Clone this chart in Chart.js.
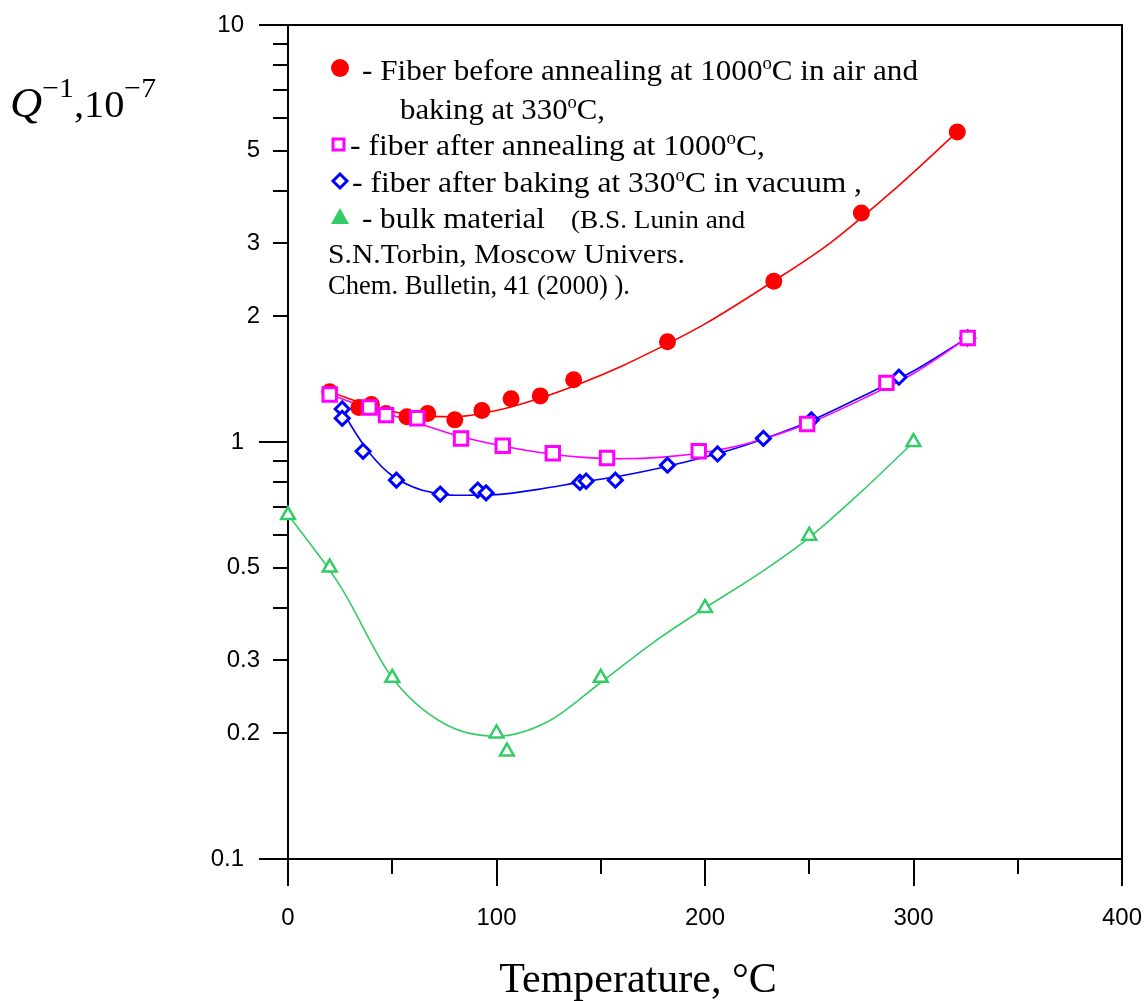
<!DOCTYPE html>
<html>
<head>
<meta charset="utf-8">
<script src="https://cdn.jsdelivr.net/npm/chart.js@4.4.1/dist/chart.umd.min.js"></script>
<style>
  html, body { margin: 0; padding: 0; background: #fff; }
  #wrap { width: 1148px; height: 1001px; position: relative; }
</style>
</head>
<body>
<div id="wrap"><canvas id="chart"></canvas></div>
<script>
// measured points (temperature, Q^-1 in 1e-7)
const redT = [20, 34, 40, 47, 57, 67, 80, 93, 107, 121, 137, 182, 233, 275, 321];
const redQ = [1.32, 1.21, 1.23, 1.17, 1.15, 1.17, 1.13, 1.19, 1.27, 1.29, 1.41, 1.74, 2.43, 3.54, 5.54];

const magT = [20, 39, 47, 62, 83, 103, 127, 153, 197, 249, 287, 326];
const magQ = [1.30, 1.21, 1.16, 1.14, 1.02, 0.98, 0.94, 0.915, 0.95, 1.105, 1.386, 1.776];

const blueT = [26, 26, 36, 52, 73, 91, 95, 140, 143, 157, 182, 206, 228, 251, 293, 326];
const blueQ = [1.20, 1.14, 0.95, 0.81, 0.75, 0.767, 0.755, 0.80, 0.806, 0.81, 0.88, 0.936, 1.02, 1.13, 1.43, 1.776];

const greenT = [0, 20, 50, 100, 105, 150, 200, 250, 300];
const greenQ = [0.668, 0.50, 0.272, 0.20, 0.181, 0.272, 0.40, 0.596, 1.0];

// fitted curves
const redFitT = [20, 40, 60, 80, 100, 120, 140, 160, 180, 200, 230, 260, 290, 321];
const redFitQ = [1.32, 1.22, 1.16, 1.15, 1.19, 1.27, 1.38, 1.52, 1.70, 1.92, 2.38, 3.0, 4.0, 5.54];

const magFitT = [20, 40, 60, 80, 100, 120, 140, 160, 180, 200, 220, 250, 280, 300, 326];
const magFitQ = [1.30, 1.20, 1.12, 1.04, 0.985, 0.945, 0.92, 0.912, 0.92, 0.945, 0.99, 1.11, 1.30, 1.46, 1.78];

const blueFitT = [26, 30, 40, 50, 60, 70, 80, 100, 120, 140, 160, 180, 200, 220, 250, 280, 300, 326];
const blueFitQ = [1.20, 1.10, 0.93, 0.83, 0.78, 0.755, 0.745, 0.748, 0.77, 0.80, 0.83, 0.87, 0.92, 0.985, 1.12, 1.32, 1.48, 1.78];

const greenFitT = [0, 25, 50, 75, 100, 125, 150, 175, 200, 225, 250, 275, 300];
const greenFitQ = [0.67, 0.452, 0.272, 0.211, 0.197, 0.214, 0.265, 0.33, 0.40, 0.48, 0.59, 0.76, 1.0];

// axis ticks
const xMajor = [0, 100, 200, 300, 400];
const xMinor = [50, 150, 250, 350];
const yDecade = [10, 1, 0.1];
const yLabeled = [5, 3, 2, 0.5, 0.3, 0.2];
const yMinor = [9, 8, 7, 6, 4, 0.9, 0.8, 0.7, 0.6, 0.4];

const RED = '#ff0000', MAG = '#ff00ff', BLUE = '#0000ff', GREEN = '#33cc66';

const pts = (t, q) => t.map((v, i) => ({ x: v, y: q[i] }));

const SERIF = '"Liberation Serif", "Times New Roman", serif';
const SANS = '"Liberation Sans", Arial, sans-serif';

// draw a run of text pieces; pieces: [text, size, raise, italic]
function rich(ctx, x, base, pieces, width) {
  let w = 0;
  pieces.forEach(p => { ctx.font = (p[3] ? 'italic ' : '') + p[1] + 'px ' + SERIF; w += ctx.measureText(p[0]).width; });
  const sx = width ? width / w : 1;
  ctx.save();
  ctx.translate(x, base);
  ctx.scale(sx, 1);
  let cx = 0;
  pieces.forEach(p => {
    ctx.font = (p[3] ? 'italic ' : '') + p[1] + 'px ' + SERIF;
    ctx.fillText(p[0], cx, -(p[2] || 0));
    cx += ctx.measureText(p[0]).width;
  });
  ctx.restore();
}

const frame = {
  id: 'frame',
  beforeDatasetsDraw(chart) {
    const { ctx, chartArea: a, scales: { x, y } } = chart;
    ctx.save();
    ctx.strokeStyle = '#000';
    ctx.lineWidth = 2;
    ctx.strokeRect(a.left, a.top, a.right - a.left, a.bottom - a.top);
    ctx.beginPath();
    yDecade.forEach(v => { const py = Math.round(y.getPixelForValue(v)); ctx.moveTo(a.left - 29, py); ctx.lineTo(a.left, py); });
    yLabeled.concat(yMinor).forEach(v => { const py = Math.round(y.getPixelForValue(v)); ctx.moveTo(a.left - 15, py); ctx.lineTo(a.left, py); });
    xMajor.forEach(v => { const px = Math.round(x.getPixelForValue(v)); ctx.moveTo(px, a.bottom); ctx.lineTo(px, a.bottom + 27); });
    xMinor.forEach(v => { const px = Math.round(x.getPixelForValue(v)); ctx.moveTo(px, a.bottom); ctx.lineTo(px, a.bottom + 15); });
    ctx.stroke();

    ctx.fillStyle = '#000';
    ctx.font = '24px ' + SANS;
    ctx.textBaseline = 'middle';
    ctx.textAlign = 'right';
    yDecade.forEach(v => ctx.fillText(String(v), a.left - 44, y.getPixelForValue(v)));
    yLabeled.forEach(v => ctx.fillText(String(v), a.left - 28, y.getPixelForValue(v)));
    ctx.textAlign = 'center';
    xMajor.forEach(v => ctx.fillText(String(v), x.getPixelForValue(v), a.bottom + 59));
    ctx.restore();
  },
  afterDraw(chart) {
    const ctx = chart.ctx;
    ctx.save();
    ctx.fillStyle = '#000';
    ctx.textBaseline = 'alphabetic';
    ctx.textAlign = 'left';

    // axis titles
    rich(ctx, 10, 117, [['Q', 42, 0, true], ['\u22121', 28, 20], [',10', 38, 0], ['\u22127', 28, 20]], 146);
    ctx.font = '42px ' + SERIF;
    ctx.textAlign = 'center';
    ctx.fillText('Temperature, \u00B0C', 638, 992);
    ctx.textAlign = 'left';

    // legend text
    const F = 30, S = 18, R = 11;
    rich(ctx, 362, 80, [['- Fiber before annealing at 1000', F], ['o', S, R], ['C in air and', F]], 556);
    rich(ctx, 400, 119, [['baking at 330', F], ['o', S, R], ['C,', F]], 205);
    rich(ctx, 350, 155, [['- fiber after annealing at 1000', F], ['o', S, R], ['C,', F]], 415);
    rich(ctx, 352, 192, [['- fiber after baking at 330', F], ['o', S, R], ['C in vacuum ,', F]], 510);
    rich(ctx, 362, 228, [['- bulk material', F]], 183);
    rich(ctx, 571, 228, [['(B.S. Lunin and', 26]], 174);
    rich(ctx, 328, 263, [['S.N.Torbin, Moscow Univers.', 27]], 357);
    rich(ctx, 328, 294, [['Chem. Bulletin, 41 (2000) ).', 27]], 302);

    // legend markers
    ctx.fillStyle = RED;
    ctx.beginPath(); ctx.arc(340, 68, 9, 0, Math.PI * 2); ctx.fill();
    ctx.strokeStyle = MAG; ctx.lineWidth = 3;
    ctx.strokeRect(333, 139, 11, 11);
    ctx.strokeStyle = BLUE;
    ctx.beginPath(); ctx.moveTo(340, 174); ctx.lineTo(347, 181); ctx.lineTo(340, 188); ctx.lineTo(333, 181); ctx.closePath(); ctx.stroke();
    ctx.fillStyle = GREEN;
    ctx.beginPath(); ctx.moveTo(340, 208); ctx.lineTo(349, 224); ctx.lineTo(331, 224); ctx.closePath(); ctx.fill();
    ctx.restore();
  }
};

const fit = (t, q, color) => ({
  data: pts(t, q), showLine: true, borderColor: color, borderWidth: 1.6,
  pointRadius: 0, order: 10, clip: false, cubicInterpolationMode: 'monotone'
});

new Chart(document.getElementById('chart'), {
  type: 'scatter',
  data: {
    datasets: [
      fit(redFitT, redFitQ, RED),
      fit(magFitT, magFitQ, MAG),
      fit(blueFitT, blueFitQ, BLUE),
      fit(greenFitT, greenFitQ, GREEN),
      { data: pts(redT, redQ), pointStyle: 'circle', pointRadius: 8.5, backgroundColor: RED, borderColor: RED, borderWidth: 0, order: 4, clip: false },
      { data: pts(greenT, greenQ), pointStyle: 'triangle', pointRadius: 8, backgroundColor: '#fff', borderColor: GREEN, borderWidth: 2.5, order: 3, clip: false },
      { data: pts(blueT, blueQ), pointStyle: 'rectRot', pointRadius: 7, backgroundColor: '#fff', borderColor: BLUE, borderWidth: 3, order: 2, clip: false },
      { data: pts(magT, magQ), pointStyle: 'rect', pointRadius: 9.5, backgroundColor: '#fff', borderColor: MAG, borderWidth: 3, order: 1, clip: false }
    ]
  },
  options: {
    responsive: true,
    maintainAspectRatio: false,
    animation: false,
    layout: { padding: { top: 25, right: 26, left: 0, bottom: 0 } },
    plugins: { legend: { display: false }, tooltip: { enabled: false } },
    scales: {
      x: {
        type: 'linear', min: 0, max: 400,
        grid: { display: false, drawTicks: false }, border: { display: false },
        ticks: { display: false },
        afterFit: s => { s.height = 142; }
      },
      y: {
        type: 'logarithmic', min: 0.1, max: 10,
        grid: { display: false, drawTicks: false }, border: { display: false },
        ticks: { display: false },
        afterFit: s => { s.width = 288; }
      }
    }
  },
  plugins: [frame]
});
</script>
</body>
</html>
